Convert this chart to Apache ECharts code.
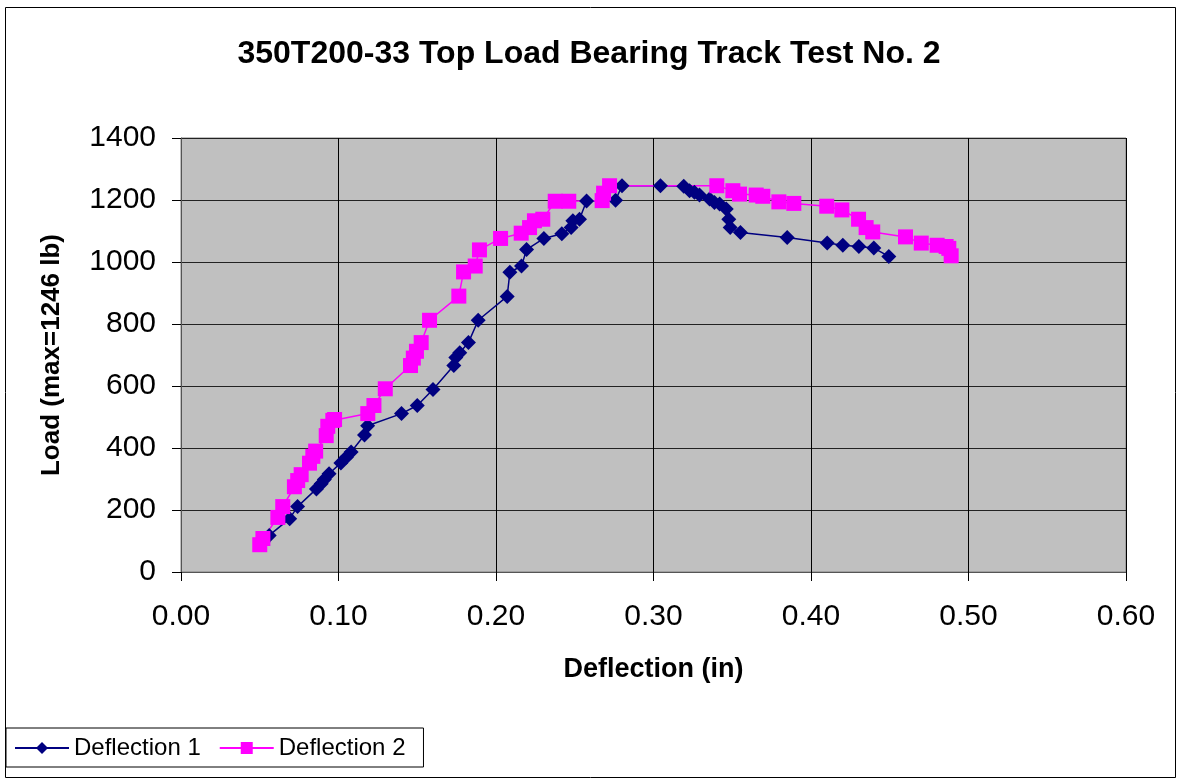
<!DOCTYPE html>
<html>
<head>
<meta charset="utf-8">
<title>350T200-33 Top Load Bearing Track Test No. 2</title>
<script src="https://cdn.jsdelivr.net/npm/echarts@6.0.0/dist/echarts.min.js"></script>
<style>
  html, body { margin: 0; padding: 0; background: #fff; }
  #chart { width: 1178px; height: 780px; }
</style>
</head>
<body>
<div id="chart"></div>
<script>
// deflection 1 (in) / load (lb)
const defl1 = [0.052, 0.056, 0.069, 0.074, 0.086, 0.089, 0.091, 0.094, 0.1015, 0.105,
  0.108, 0.1165, 0.1185, 0.140, 0.150, 0.160, 0.1732, 0.1745, 0.177, 0.1825,
  0.1887, 0.2071, 0.2088, 0.2162, 0.2194, 0.2304, 0.2418, 0.2477, 0.2488, 0.253,
  0.2575, 0.2759, 0.280, 0.3044, 0.3192, 0.3229, 0.326, 0.3292, 0.3356, 0.3387,
  0.342, 0.3462, 0.3478, 0.3487, 0.3552, 0.3849, 0.4103, 0.4202, 0.4304, 0.4399, 0.4494];
const load1 = [95, 118, 172, 211, 268, 285, 298, 317, 352, 370,
  387, 442, 472, 511, 537, 589, 666, 692, 707, 740,
  812, 889, 967, 987, 1040, 1076, 1091, 1111, 1133, 1138,
  1197, 1199, 1246, 1246, 1244, 1230, 1225, 1216, 1203, 1192,
  1187, 1171, 1138, 1111, 1095, 1079, 1061, 1054, 1050, 1045, 1018];

// deflection 2 (in) / load (lb)
const defl2 = [0.050, 0.052, 0.0615, 0.0646, 0.072, 0.0741, 0.0763, 0.0816, 0.0837, 0.0855,
  0.0922, 0.0932, 0.0964, 0.0975, 0.1186, 0.1225, 0.1297, 0.1457, 0.1475, 0.1495,
  0.1525, 0.1578, 0.1764, 0.1794, 0.1868, 0.1895, 0.2029, 0.216, 0.2213, 0.2244,
  0.2297, 0.2376, 0.2462, 0.2674, 0.2683, 0.2721, 0.3402, 0.3504, 0.3546, 0.3652,
  0.3694, 0.3796, 0.3891, 0.41, 0.4196, 0.4302, 0.435, 0.4392, 0.46, 0.47,
  0.4801, 0.4858, 0.4875, 0.489];
const load2 = [88, 108, 176, 211, 275, 295, 314, 351, 373, 390,
  440, 470, 489, 492, 511, 537, 591, 666, 690, 712,
  740, 812, 890, 968, 987, 1039, 1076, 1093, 1111, 1133,
  1138, 1196, 1196, 1198, 1222, 1246, 1246, 1230, 1219, 1216,
  1212, 1194, 1189, 1180, 1168, 1138, 1111, 1097, 1081, 1061,
  1054, 1050, 1044, 1020];

const seriesNames = ["Deflection 1", "Deflection 2"];

const zip = (xs, ys) => xs.map((x, i) => [x, ys[i]]);
const font = "Liberation Sans, Arial, sans-serif";

const myChart = echarts.init(document.getElementById("chart"));
const option = {
  animation: false,
  backgroundColor: "#fff",
  textStyle: { fontFamily: font },
  title: {
    text: "350T200-33 Top Load Bearing Track Test No. 2",
    left: "center",
    top: 33,
    textStyle: { fontFamily: font, fontSize: 32, fontWeight: "bold", color: "#000" },
  },
  graphic: [
    {
      type: "rect",
      shape: { x: 5.5, y: 7.5, width: 1170, height: 770 },
      style: { fill: "none", stroke: "#000", lineWidth: 1 },
      silent: true,
      z: -1,
    },
  ],
  legend: {
    left: 6,
    top: 728,
    orient: "horizontal",
    itemWidth: 54,
    itemHeight: 15,
    itemGap: 18,
    padding: [8, 18, 7, 8],
    backgroundColor: "#fff",
    borderColor: "#000",
    borderWidth: 1,
    borderRadius: 0,
    textStyle: { fontFamily: font, fontSize: 24, color: "#000" },
    data: seriesNames,
  },
  grid: {
    left: 181,
    top: 138,
    width: 945,
    height: 434,
    show: true,
    backgroundColor: "#c0c0c0",
    borderColor: "#808080",
    borderWidth: 1,
    containLabel: false,
    outerBoundsMode: "none",
  },
  xAxis: {
    type: "value",
    min: 0,
    max: 0.6,
    interval: 0.1,
    name: "Deflection (in)",
    nameLocation: "middle",
    nameGap: 84,
    nameTextStyle: { fontFamily: font, fontSize: 27, fontWeight: "bold", color: "#000" },
    axisLine: { show: true, lineStyle: { color: "#555", width: 1 } },
    axisTick: { show: true, length: 9, lineStyle: { color: "#000" } },
    axisLabel: {
      fontFamily: font,
      fontSize: 30,
      color: "#000",
      margin: 30,
      formatter: (v) => v.toFixed(2),
    },
    splitLine: { show: true, lineStyle: { color: "#000", width: 1 } },
  },
  yAxis: {
    type: "value",
    min: 0,
    max: 1400,
    interval: 200,
    name: "Load (max=1246 lb)",
    nameLocation: "middle",
    nameGap: 116,
    nameTextStyle: { fontFamily: font, fontSize: 26, fontWeight: "bold", color: "#000" },
    axisLine: { show: true, lineStyle: { color: "#555", width: 1 } },
    axisTick: { show: true, length: 9, lineStyle: { color: "#000" } },
    axisLabel: {
      fontFamily: font,
      fontSize: 30,
      color: "#000",
      margin: 25,
      formatter: (v) => String(v),
    },
    splitLine: { show: true, lineStyle: { color: "#222", width: 1 } },
  },
  series: [
    {
      name: seriesNames[0],
      type: "line",
      data: zip(defl1, load1),
      symbol: "diamond",
      symbolSize: 15,
      showAllSymbol: true,
      lineStyle: { color: "#000080", width: 1.5 },
      itemStyle: { color: "#000080" },
    },
    {
      name: seriesNames[1],
      type: "line",
      data: zip(defl2, load2),
      symbol: "rect",
      symbolSize: 15,
      showAllSymbol: true,
      lineStyle: { color: "#ff00ff", width: 1.5 },
      itemStyle: { color: "#ff00ff" },
    },
  ],
};
myChart.setOption(option);
</script>
</body>
</html>
